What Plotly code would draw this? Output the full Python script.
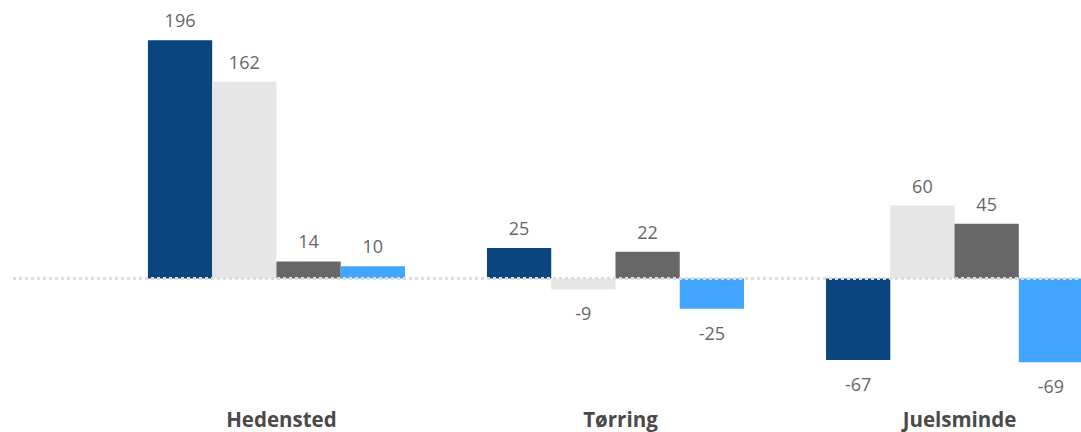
import plotly.graph_objects as go

categories = ["Hedensted", "Tørring", "Juelsminde"]
series_names = ["Serie 1", "Serie 2", "Serie 3", "Serie 4"]
serie_1 = [196, 25, -67]
serie_2 = [162, -9, 60]
serie_3 = [14, 22, 45]
serie_4 = [10, -25, -69]
colors = ["#0A4580", "#E6E6E6", "#676767", "#42A5FF"]

all_series = [serie_1, serie_2, serie_3, serie_4]

fig = go.Figure()
for i, (name, vals, col) in enumerate(zip(series_names, all_series, colors)):
    fig.add_trace(go.Bar(
        x=categories, y=vals, name=name,
        marker=dict(color=col, line=dict(width=0)),
        offsetgroup=str(i), hoverinfo="x+y+name",
    ))
for i, (name, vals) in enumerate(zip(series_names, all_series)):
    fig.add_trace(go.Scatter(
        x=categories, y=vals, name=name, mode="markers+text",
        text=[str(v) for v in vals],
        textposition=["top center" if v >= 0 else "bottom center" for v in vals],
        marker=dict(size=[12 if v >= 0 else 26 for v in vals], opacity=0, color="white"),
        textfont=dict(family="Open Sans", size=18, color="#666666"),
        offsetgroup=str(i), cliponaxis=False, hoverinfo="skip", showlegend=False,
    ))

fig.update_layout(
    width=1081, height=432,
    margin=dict(l=13, r=0, t=0, b=37),
    barmode="group", bargap=0.242, bargroupgap=0,
    scattermode="group", scattergap=0.242,
    plot_bgcolor="white", paper_bgcolor="white",
    showlegend=False,
    xaxis=dict(range=[-0.777, 2.373], showgrid=False, zeroline=False, showline=False,
               automargin=False,
               ticks="", tickfont=dict(family="Open Sans", size=20.5, color="#4A4A4A"),
               ticklabelstandoff=10, ticklabelshift=5),
    yaxis=dict(range=[-95.9, 229.2], visible=False, showgrid=False, zeroline=False,
               automargin=False),
)
fig.update_xaxes(tickvals=categories, ticktext=["<b>%s</b>" % c for c in categories])
fig.add_shape(type="line", xref="paper", yref="y", x0=0, x1=1, y0=0, y1=0,
              line=dict(color="#DDDDDD", width=3, dash="dot"), layer="above")

fig.write_html("out.html", config={"displayModeBar": False},
               post_script="document.body.style.margin='0';")
